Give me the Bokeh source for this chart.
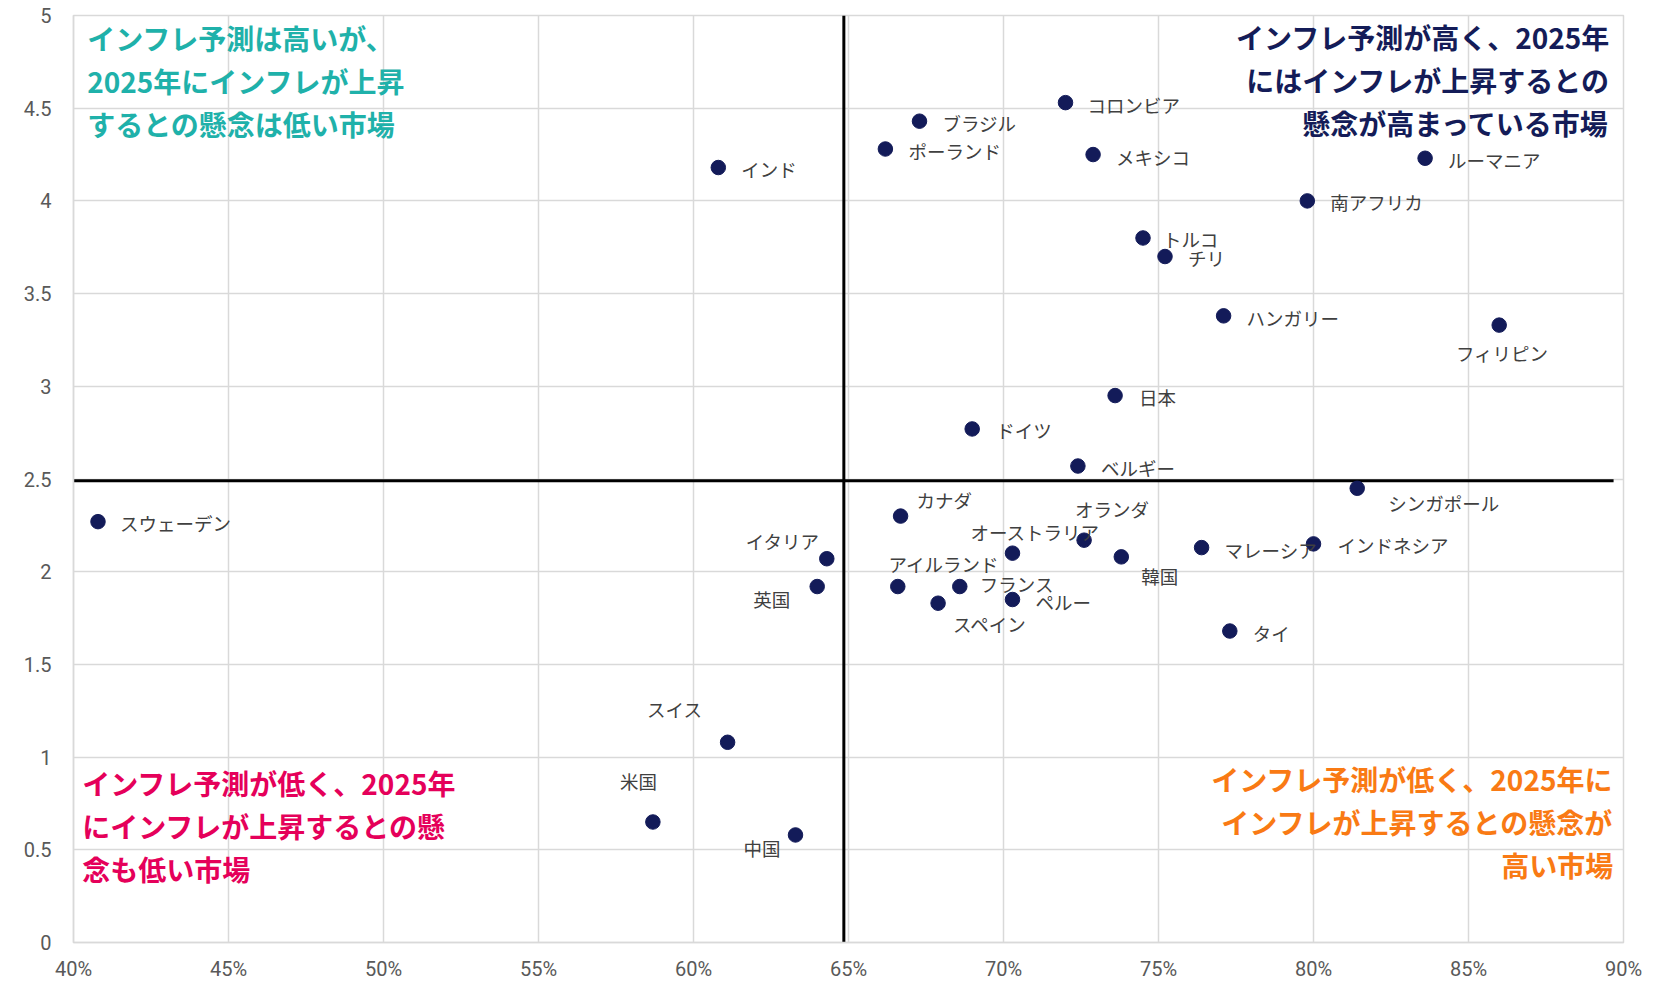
from bokeh.plotting import figure
from bokeh.models import FixedTicker, ColumnDataSource, Range1d
from bokeh.core.properties import value
from bokeh.embed import file_html
from bokeh.resources import INLINE

# ---------------- data ----------------
countries = ["インド", "ブラジル", "ポーランド", "コロンビア", "メキシコ", "ルーマニア",
             "南アフリカ", "トルコ", "チリ", "ハンガリー", "フィリピン", "日本", "ドイツ",
             "ベルギー", "シンガポール", "スウェーデン", "カナダ", "イタリア", "オーストラリア",
             "オランダ", "韓国", "マレーシア", "インドネシア", "英国", "アイルランド",
             "フランス", "スペイン", "ペルー", "タイ", "スイス", "米国", "中国"]
inflation_expectation = [60.80, 67.29, 66.19, 72.00, 72.89, 83.60,
                         79.80, 74.50, 75.21, 77.10, 85.99, 73.60, 68.99,
                         72.40, 81.41, 40.79, 66.68, 64.30, 70.29,
                         72.60, 73.80, 76.39, 80.00, 63.99, 66.59,
                         68.59, 67.89, 70.29, 77.30, 61.10, 58.69, 63.29]
concern_2025 = [4.18, 4.43, 4.28, 4.53, 4.25, 4.23,
                4.00, 3.80, 3.70, 3.38, 3.33, 2.95, 2.77,
                2.57, 2.45, 2.27, 2.30, 2.07, 2.10,
                2.17, 2.08, 2.13, 2.15, 1.92, 1.92,
                1.92, 1.83, 1.85, 1.68, 1.08, 0.65, 0.58]

x_ticks = [40, 45, 50, 55, 60, 65, 70, 75, 80, 85, 90]
x_tick_labels = ["40%", "45%", "50%", "55%", "60%", "65%", "70%", "75%", "80%", "85%", "90%"]
y_ticks = [0, 0.5, 1, 1.5, 2, 2.5, 3, 3.5, 4, 4.5, 5]
y_tick_labels = ["0", "0.5", "1", "1.5", "2", "2.5", "3", "3.5", "4", "4.5", "5"]

x_divider = 64.85
y_divider = 2.49

quadrant_titles = [
    ["インフレ予測は高いが、", "2025年にインフレが上昇", "するとの懸念は低い市場"],
    ["インフレ予測が高く、2025年", "にはインフレが上昇するとの", "懸念が高まっている市場"],
    ["インフレ予測が低く、2025年", "にインフレが上昇するとの懸", "念も低い市場"],
    ["インフレ予測が低く、2025年に", "インフレが上昇するとの懸念が", "高い市場"],
]

# ---------------- layout / style ----------------
NAVY = "#131b59"
QCOLORS = ["#1fb1aa", "#141c58", "#e5005a", "#f97a14"]
# quadrant text anchors: first-line centre (x, y, align)
QPOS = [(40.44, 4.880, "left"), (89.57, 4.884, "right"),
        (40.28, 0.858, "left"), (89.67, 0.881, "right")]
QLINE = 43  # px between lines

# label placement: (dx, dy, align) in screen px, dy positive = down
LBL = {
    "インド": (23, 1.5, "left"), "ブラジル": (23, 2, "left"), "ポーランド": (23, 2, "left"),
    "コロンビア": (22, 2, "left"), "メキシコ": (23, 2, "left"), "ルーマニア": (23, 2, "left"),
    "南アフリカ": (23, 1.5, "left"), "トルコ": (20, 1, "left"), "チリ": (23, 1, "left"),
    "ハンガリー": (23, 2, "left"), "フィリピン": (3, 28, "center"), "日本": (24, 1.5, "left"),
    "ドイツ": (24, 1.5, "left"), "ベルギー": (23, 2, "left"), "シンガポール": (31, 15, "left"),
    "スウェーデン": (22, 1, "left"), "カナダ": (16, -16, "left"), "イタリア": (-7, -18, "right"),
    "オーストラリア": (-42, -21, "left"), "オランダ": (-9, -31, "left"), "韓国": (20, 19, "left"),
    "マレーシア": (23, 2, "left"), "インドネシア": (24, 1, "left"), "英国": (-27, 12.6, "right"),
    "アイルランド": (-9.4, -22.4, "left"), "フランス": (20, -3, "left"), "スペイン": (15, 21, "left"),
    "ペルー": (23, 2.4, "left"), "タイ": (23, 2, "left"), "スイス": (-25, -33, "right"),
    "米国": (4, -40.6, "right"), "中国": (-15, 12.6, "right"),
}

p = figure(width=1665, height=986, output_backend="svg", toolbar_location=None,
           x_range=Range1d(40, 90), y_range=Range1d(0, 5),
           min_border_left=73, min_border_right=42, min_border_top=15, min_border_bottom=44)

p.background_fill_color = "white"
p.border_fill_color = "white"
p.outline_line_color = "#d9d9d9"
p.outline_line_width = 1.5

p.xaxis.ticker = FixedTicker(ticks=x_ticks)
p.yaxis.ticker = FixedTicker(ticks=y_ticks)
p.xaxis.major_label_overrides = dict(zip(x_ticks, x_tick_labels))
p.yaxis.major_label_overrides = dict(zip(y_ticks, y_tick_labels))
for ax in (p.xaxis, p.yaxis):
    ax.axis_line_color = "#d9d9d9"
    ax.axis_line_width = 1.5
    ax.major_tick_line_color = None
    ax.minor_tick_line_color = None
    ax.major_tick_out = 0
    ax.major_tick_in = 0
    ax.minor_tick_out = 0
    ax.minor_tick_in = 0
    ax.major_label_text_font = "Roboto"
    ax.major_label_text_font_size = "20px"
    ax.major_label_text_color = "#595959"
p.yaxis.major_label_standoff = 22
p.xaxis.major_label_standoff = 14

p.xgrid.grid_line_color = "#d9d9d9"
p.ygrid.grid_line_color = "#d9d9d9"
p.xgrid.grid_line_width = 1.5
p.ygrid.grid_line_width = 1.5

# divider lines
p.segment(x0=[x_divider], y0=[0], x1=[x_divider], y1=[5], line_color="black", line_width=3)
p.segment(x0=[40], y0=[y_divider], x1=[89.68], y1=[y_divider], line_color="black", line_width=3)

# points
src = ColumnDataSource(dict(x=inflation_expectation, y=concern_2025, name=countries))
p.scatter("x", "y", source=src, size=14.5, fill_color=NAVY, line_color=NAVY)

# labels
for align in ("left", "right", "center"):
    sel = [i for i, c in enumerate(countries) if LBL[c][2] == align]
    s = ColumnDataSource(dict(
        x=[inflation_expectation[i] for i in sel],
        y=[concern_2025[i] for i in sel],
        t=[countries[i] for i in sel],
        dx=[LBL[countries[i]][0] for i in sel],
        dy=[LBL[countries[i]][1] for i in sel],
    ))
    p.text("x", "y", text="t", source=s, x_offset="dx", y_offset="dy",
           text_align=align, text_baseline="middle",
           text_font=value("Noto Sans CJK JP"), text_font_size="18.5px",
           text_color="#404040")

# quadrant titles, one glyph row per line
for (qx, qy, qa), lines, col in zip(QPOS, quadrant_titles, QCOLORS):
    n = len(lines)
    p.text(x=[qx] * n, y=[qy] * n, text=lines, y_offset=[i * QLINE for i in range(n)],
           text_align=qa, text_baseline="middle",
           text_font=value("Noto Sans CJK JP"), text_font_size="28px",
           text_font_style="bold", text_color=col)

open("out.html", "w").write(file_html(p, INLINE))
